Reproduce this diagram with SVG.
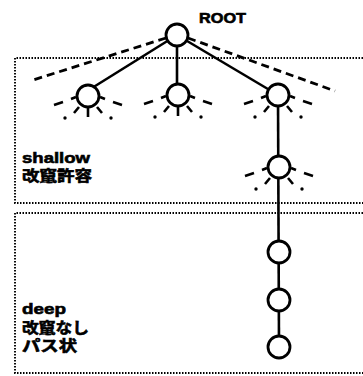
<svg xmlns="http://www.w3.org/2000/svg" xmlns:xlink="http://www.w3.org/1999/xlink" width="363" height="376" viewBox="0 0 363 376">
<style>
.bg{fill:#fff}
.box{fill:none;stroke:#000;stroke-width:1.9;stroke-dasharray:1.5 1.5}
.edge{fill:none;stroke:#000;stroke-width:2.6}
.dash{fill:none;stroke:#000;stroke-width:2.8;stroke-dasharray:8 5}
.ray{fill:none;stroke:#000;stroke-width:2.6;stroke-linecap:butt}
.dot{fill:#000}
.node{fill:#fff;stroke:#000;stroke-width:2.8}
.lbl{font-family:"Liberation Sans","Noto Sans CJK JP",sans-serif;font-weight:bold;fill:#000;stroke:#000;stroke-width:0.6}
</style>
<defs>
<g id="burst">
<path class="ray" d="M-12 1L-17 3M-25 6L-34 9M12 1L17 3M25 6L34 9M-9 11L-14 17M9 11L14 17"/>
<circle class="dot" cx="-23" cy="22" r="1.7"/>
<circle class="dot" cx="23" cy="22" r="1.7"/>
</g>
<g id="burstLeaf">
<use xlink:href="#burst"/>
<path class="ray" d="M0 12V21"/>
</g>
</defs>
<rect class="bg" x="0" y="0" width="363" height="376"/>
<g id="regions">
<path class="box" d="M363 58H15V203H363"/>
<path class="box" d="M363 213H15V373H363"/>
</g>
<g id="connectors">
<path class="dash" d="M166 38L33 80"/>
<path class="dash" d="M188 38L335 91"/>
<path class="edge" d="M177 35L92 88"/>
<path class="edge" d="M177 35V95"/>
<path class="edge" d="M177 35L278 95"/>
<path class="edge" d="M278 95L279 347"/>
</g>
<g id="root"><circle class="node" cx="177" cy="35" r="11"/></g>
<g id="n1"><use xlink:href="#burstLeaf" x="88" y="96"/><circle class="node" cx="88" cy="96" r="11"/></g>
<g id="n2"><use xlink:href="#burstLeaf" x="178" y="95"/><circle class="node" cx="178" cy="95" r="11"/></g>
<g id="n3"><use xlink:href="#burst" x="278" y="95"/><circle class="node" cx="278" cy="95" r="11"/></g>
<g id="n4"><use xlink:href="#burst" x="279" y="167"/><circle class="node" cx="279" cy="167" r="11"/></g>
<g id="n5"><circle class="node" cx="279" cy="252" r="11"/></g>
<g id="n6"><circle class="node" cx="279" cy="300" r="11"/></g>
<g id="n7"><circle class="node" cx="279" cy="347" r="11"/></g>
<g id="labels">
<text class="lbl" x="199" y="23" font-size="14" textLength="47" lengthAdjust="spacingAndGlyphs">ROOT</text>
<text class="lbl" x="22" y="163" font-size="15" textLength="68" lengthAdjust="spacingAndGlyphs">shallow</text>
<text class="lbl" x="22" y="181" font-size="15" textLength="70" lengthAdjust="spacingAndGlyphs">改竄許容</text>
<text class="lbl" x="22" y="314" font-size="15" textLength="44" lengthAdjust="spacingAndGlyphs">deep</text>
<text class="lbl" x="22" y="333" font-size="15" textLength="67" lengthAdjust="spacingAndGlyphs">改竄なし</text>
<text class="lbl" x="22" y="351" font-size="15" textLength="55" lengthAdjust="spacingAndGlyphs">パス状</text>
</g>
</svg>
